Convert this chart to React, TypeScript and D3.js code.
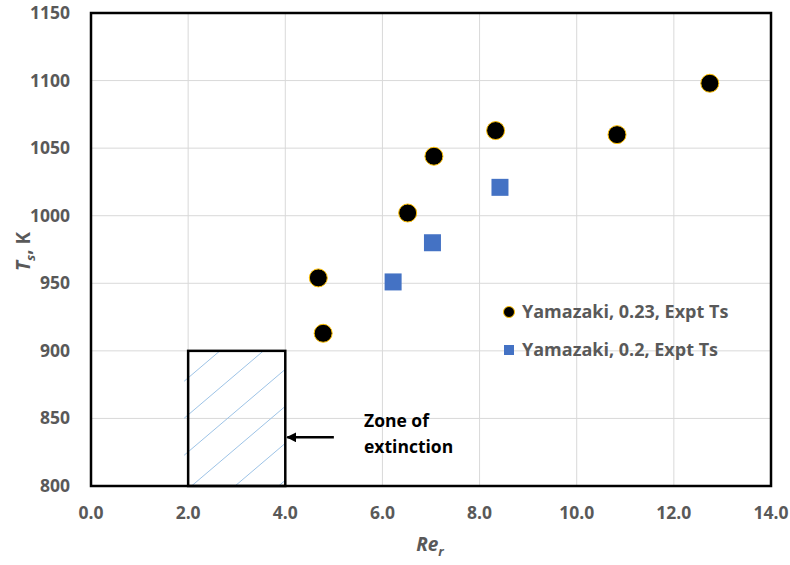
import * as d3 from "d3";

// Yamazaki, 0.23 (circles)
const circleRe = [4.68, 4.78, 6.52, 7.06, 8.33, 10.83, 12.74];
const circleTs = [954, 913, 1002, 1044, 1063, 1060, 1098];
// Yamazaki, 0.2 (squares)
const squareRe = [6.22, 7.03, 8.42];
const squareTs = [951, 980, 1021];

const xTicks = [0, 2, 4, 6, 8, 10, 12, 14];
const yTicks = [800, 850, 900, 950, 1000, 1050, 1100, 1150];
const legendLabels = ["Yamazaki, 0.23, Expt Ts", "Yamazaki, 0.2, Expt Ts"];

// zone of extinction box + arrow (data units)
const zone = { x0: 2, x1: 4, y0: 800, y1: 900 };
const arrow = { from: 5.0, to: 4.0, y: 836 };

const W = 790;
const H = 565;
const FONT = "'Open Sans', Lato, sans-serif";
const GREY = "#595959";

export default function App() {
  const x = d3.scaleLinear().domain([0, 14]).range([91, 771]);
  const y = d3.scaleLinear().domain([800, 1150]).range([486, 13]);

  const zx0 = x(zone.x0), zx1 = x(zone.x1), zy0 = y(zone.y1), zy1 = y(zone.y0);
  // diagonal hatch lines inside zone box
  const hatch: [number, number, number, number][] = [];
  const slope = 0.85;
  for (let c = zy0 - 10; c < zy1 + (zx1 - zx0) * slope; c += 37) {
    hatch.push([zx0 - 4, c + 4 * slope, zx1, c - slope * (zx1 - zx0)]);
  }

  return (
    <svg width={W} height={H} style={{ position: "absolute", left: 0, top: 0, background: "#fff" }} fontFamily={FONT}>
      <defs>
        <clipPath id="zoneClip">
          <rect x={zx0 - 6} y={zy0} width={zx1 - zx0 + 6} height={zy1 - zy0} />
        </clipPath>
        <marker id="arrowHead" viewBox="0 0 10 10" refX="9" refY="5" markerWidth="4" markerHeight="4" orient="auto">
          <path d="M0,0 L10,5 L0,10 z" fill="#000" />
        </marker>
      </defs>

      {/* grid */}
      <g stroke="#d9d9d9" strokeWidth={1}>
        {xTicks.map((t) => (
          <line key={"gx" + t} x1={x(t)} x2={x(t)} y1={y(1150)} y2={y(800)} />
        ))}
        {yTicks.map((t) => (
          <line key={"gy" + t} x1={x(0)} x2={x(14)} y1={y(t)} y2={y(t)} />
        ))}
      </g>

      {/* tick labels */}
      <g fill={GREY} fontWeight={700} fontSize={17.5}>
        {yTicks.map((t) => (
          <text key={"ty" + t} x={70} y={y(t) + 6} textAnchor="end">{t}</text>
        ))}
        {xTicks.map((t) => (
          <text key={"tx" + t} x={x(t)} y={519} textAnchor="middle">{t.toFixed(1)}</text>
        ))}
      </g>

      {/* axis titles */}
      <text x={430} y={551} textAnchor="middle" fill={GREY} fontWeight={700} fontStyle="italic" fontSize={19}>
        Re<tspan fontSize={13} dy={5}>r</tspan>
      </text>
      <text transform={`translate(30,${(y(1150) + y(800)) / 2 + 2}) rotate(-90)`} textAnchor="middle" fill={GREY} fontWeight={700} fontSize={19}>
        <tspan fontStyle="italic">T</tspan>
        <tspan fontStyle="italic" fontSize={13} dy={5}>s</tspan>
        <tspan dy={-5}>, K</tspan>
      </text>

      {/* zone of extinction */}
      <g clipPath="url(#zoneClip)" stroke="#9dc3e6" strokeWidth={1}>
        {hatch.map((h, i) => (
          <line key={"h" + i} x1={h[0]} y1={h[1]} x2={h[2]} y2={h[3]} />
        ))}
      </g>
      <rect x={zx0} y={zy0} width={zx1 - zx0} height={zy1 - zy0} fill="none" stroke="#000" strokeWidth={2.5} />
      <line x1={x(arrow.from)} x2={x(arrow.to) + 2} y1={y(arrow.y)} y2={y(arrow.y)} stroke="#000" strokeWidth={2.5} markerEnd="url(#arrowHead)" />
      <g fill="#000" fontWeight={700} fontSize={17.5}>
        <text x={364} y={427}>Zone of</text>
        <text x={364} y={453}>extinction</text>
      </g>

      {/* plot frame */}
      <rect x={x(0)} y={y(1150)} width={x(14) - x(0)} height={y(800) - y(1150)} fill="none" stroke="#000" strokeWidth={2.5} />

      {/* series */}
      <g>
        {squareRe.map((r, i) => (
          <rect key={"s" + i} x={x(r) - 8.5} y={y(squareTs[i]) - 8.5} width={17} height={17} fill="#4472c4" />
        ))}
        {circleRe.map((r, i) => (
          <circle key={"c" + i} cx={x(r)} cy={y(circleTs[i])} r={9} fill="#000" stroke="#ffc000" strokeWidth={1} />
        ))}
      </g>

      {/* legend */}
      <g fontWeight={700} fontSize={18} fill={GREY}>
        <circle cx={509} cy={312} r={5.5} fill="#000" stroke="#ffc000" strokeWidth={1} />
        <text x={522} y={318}>{legendLabels[0]}</text>
        <rect x={504} y={345} width={10} height={10} fill="#4472c4" />
        <text x={522} y={356}>{legendLabels[1]}</text>
      </g>
    </svg>
  );
}
